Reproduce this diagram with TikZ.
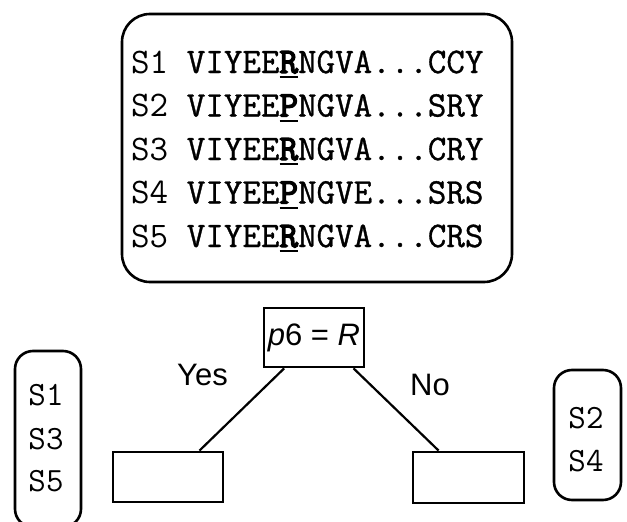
\documentclass[tikz,border=0pt]{standalone}
\usepackage{fontspec}
\setmainfont{Liberation Sans}
\setsansfont{Liberation Sans}
\setmonofont{Latin Modern Mono}
\newfontfamily\seqfont{Latin Modern Mono}[FakeBold=0.9]
\newfontfamily\resfont{Latin Modern Mono}[FakeBold=4]
% residue at the split position: heavy, with a rule underneath
\newsavebox\resbox
\newcommand\keyres[1]{\sbox\resbox{\resfont #1}\rlap{\rule[-5pt]{\wd\resbox}{2pt}}\usebox\resbox}
\begin{document}
\begin{tikzpicture}[x=1pt,y=-1pt,
  roundbox/.style={draw, line width=2.6pt, inner sep=0pt, rounded corners=#1},
  leafbox/.style={draw, line width=2.8pt, inner sep=0pt},
  seqrow/.style={anchor=base west, inner sep=0pt, font=\seqfont\fontsize{36}{36}\selectfont},
  idlabel/.style={anchor=base, inner sep=0pt, font=\ttfamily\fontsize{34}{34}\selectfont},
  sanslabel/.style={inner sep=0pt, font=\sffamily\fontsize{31}{31}\selectfont},
  branch/.style={line width=2.2pt}]
\useasboundingbox (0,0) rectangle (627,522);

% alignment panel
\node[roundbox=28pt, minimum width=390pt, minimum height=268pt] (panel) at (317,148) {};
\node[seqrow] (r1) at (131,73)    {{\ttfamily S1 }VIYEE\keyres{R}NGVA...CCY};
\node[seqrow] (r2) at (131,116.5) {{\ttfamily S2 }VIYEE\keyres{P}NGVA...SRY};
\node[seqrow] (r3) at (131,160)   {{\ttfamily S3 }VIYEE\keyres{R}NGVA...CRY};
\node[seqrow] (r4) at (131,203.5) {{\ttfamily S4 }VIYEE\keyres{P}NGVE...SRS};
\node[seqrow] (r5) at (131,247)   {{\ttfamily S5 }VIYEE\keyres{R}NGVA...CRS};

% decision node and its two leaves
\node[leafbox, minimum width=100pt, minimum height=59pt, sanslabel] (test) at (314,337.5) {\textit{p}6 = \textit{R}};
\node[leafbox, minimum width=110pt, minimum height=50pt] (yesleaf) at (168,477) {};
\node[leafbox, minimum width=111pt, minimum height=51pt] (noleaf) at (468.5,477.5) {};
\draw[branch] (test.-134.5) -- (yesleaf.40.8);
\draw[branch] (test.-38.6) -- (noleaf.138.2);
\node[sanslabel, anchor=base west] (yes) at (177,385) {Yes};
\node[sanslabel, anchor=base west] (no) at (410,395) {No};

% sequences sent to each side
\node[roundbox=18pt, minimum width=66pt, minimum height=176pt] (yesset) at (48,439) {};
\node[idlabel] (y1) at (46,405) {S1};
\node[idlabel] (y3) at (46,449) {S3};
\node[idlabel] (y5) at (46,491) {S5};
\node[roundbox=18pt, minimum width=67pt, minimum height=130pt] (noset) at (587.5,435) {};
\node[idlabel] (n2) at (586,428) {S2};
\node[idlabel] (n4) at (586,471) {S4};
\end{tikzpicture}
\end{document}
